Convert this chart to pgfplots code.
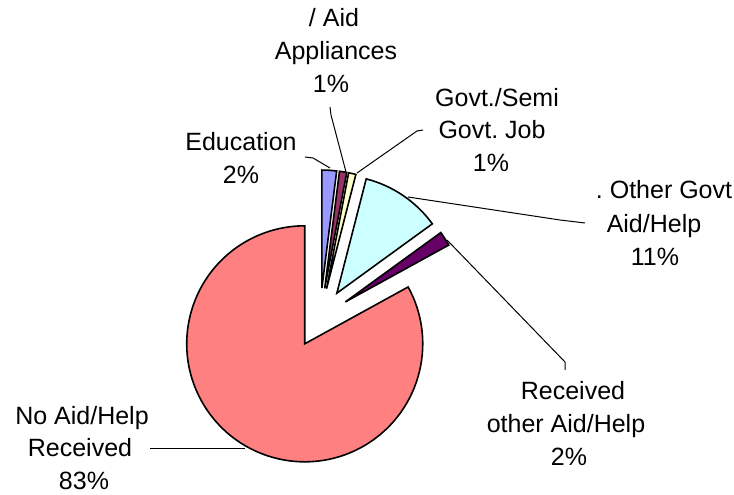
\documentclass[border=0pt]{standalone}
\usepackage{pgfplots}
\pgfplotsset{compat=1.18}
\usepackage{fontspec}
\setmainfont{Liberation Sans}
\frenchspacing
\definecolor{cEdu}{HTML}{9999FF}
\definecolor{cApp}{HTML}{993366}
\definecolor{cJob}{HTML}{FFFFCC}
\definecolor{cOth}{HTML}{CCFFFF}
\definecolor{cRec}{HTML}{660066}
\definecolor{cNo}{HTML}{FF8080}
% slice values in percent
\def\vEdu{2}\def\vApp{1}\def\vJob{1}\def\vOth{11}\def\vRec{2}\def\vNo{83}
\pgfmathsetmacro\aA{90}
\pgfmathsetmacro\aB{\aA-3.6*\vEdu}
\pgfmathsetmacro\aC{\aB-3.6*\vApp}
\pgfmathsetmacro\aD{\aC-3.6*\vJob}
\pgfmathsetmacro\aE{\aD-3.6*\vOth}
\pgfmathsetmacro\aF{\aE-3.6*\vRec}
\pgfmathsetmacro\aG{\aF-3.6*\vNo}
\pgfmathsetmacro\mA{(\aA+\aB)/2}
\pgfmathsetmacro\mB{(\aB+\aC)/2}
\pgfmathsetmacro\mC{(\aC+\aD)/2}
\pgfmathsetmacro\mD{(\aD+\aE)/2}
\pgfmathsetmacro\mE{(\aE+\aF)/2}
\pgfmathsetmacro\mF{(\aF+\aG)/2}
\newcommand{\lbl}{\fontsize{25}{30}\selectfont}
\begin{document}
\begin{tikzpicture}
\path[use as bounding box] (0,0) rectangle (734pt,495pt);
\begin{axis}[x=1pt,y=1pt,xmin=0,xmax=734,ymin=0,ymax=495,
  scale only axis,hide axis,clip=false,anchor=south west,at={(0,0)}]
\tikzset{sl/.style={draw=black,line width=1.6pt,line join=miter}}
% slices
\filldraw[sl,fill=cNo] (axis cs:320,177) ++(\mF:30pt) -- ++(\aF:118pt) arc[start angle=\aF,end angle=\aG,radius=118pt] -- cycle;
\filldraw[sl,fill=cEdu] (axis cs:320,177) ++(\mA:30pt) -- ++(\aA:118pt) arc[start angle=\aA,end angle=\aB,radius=118pt] -- cycle;
\filldraw[sl,fill=cApp] (axis cs:320,177) ++(\mB:30pt) -- ++(\aB:118pt) arc[start angle=\aB,end angle=\aC,radius=118pt] -- cycle;
\filldraw[sl,fill=cJob] (axis cs:320,177) ++(\mC:30pt) -- ++(\aC:118pt) arc[start angle=\aC,end angle=\aD,radius=118pt] -- cycle;
\filldraw[sl,fill=cOth] (axis cs:320,177) ++(\mD:30pt) -- ++(\aD:118pt) arc[start angle=\aD,end angle=\aE,radius=118pt] -- cycle;
\filldraw[sl,fill=cRec] (axis cs:320,177) ++(\mE:30pt) -- ++(\aE:118pt) arc[start angle=\aE,end angle=\aF,radius=118pt] -- cycle;
% leader lines
\draw[line width=1pt] (axis cs:305,338) -- (axis cs:313,337) -- (axis cs:330,327);
\draw[line width=1pt] (axis cs:330,388) -- (axis cs:331,380) -- (axis cs:346,323);
\draw[line width=1pt] (axis cs:423,365) -- (axis cs:417,364) -- (axis cs:357,322);
\draw[line width=1pt] (axis cs:408,298) -- (axis cs:560,275) -- (axis cs:585,272);
\draw[line width=1pt] (axis cs:447,255) -- (axis cs:565,133) -- (axis cs:565,125);
\draw[line width=1pt] (axis cs:150,46) -- (axis cs:245,46);
% labels
\begin{scope}
\clip (axis cs:250,380) rectangle (axis cs:398,495);
\node[anchor=base] at (axis cs:334,468) {\lbl / Aid};
\node[anchor=base] at (axis cs:336,435) {\lbl Appliances};
\node[anchor=base] at (axis cs:331,402) {\lbl 1\%};
\end{scope}
\node[anchor=base] at (axis cs:497,388) {\lbl Govt./Semi};
\node[anchor=base] at (axis cs:492,356) {\lbl Govt. Job};
\node[anchor=base] at (axis cs:491,323) {\lbl 1\%};
\node[anchor=base] at (axis cs:241,344) {\lbl Education};
\node[anchor=base] at (axis cs:241,311) {\lbl 2\%};
\node[anchor=base] at (axis cs:664,296) {\lbl . Other Govt};
\node[anchor=base] at (axis cs:654,262) {\lbl Aid/Help};
\node[anchor=base] at (axis cs:655,229) {\lbl 11\%};
\node[anchor=base] at (axis cs:573,95) {\lbl Received};
\node[anchor=base] at (axis cs:566,62) {\lbl other Aid/Help};
\node[anchor=base] at (axis cs:569,29) {\lbl 2\%};
\node[anchor=base] at (axis cs:82,70) {\lbl No Aid/Help};
\node[anchor=base] at (axis cs:80,38) {\lbl Received};
\node[anchor=base] at (axis cs:84,5) {\lbl 83\%};
\end{axis}
\end{tikzpicture}
\end{document}
